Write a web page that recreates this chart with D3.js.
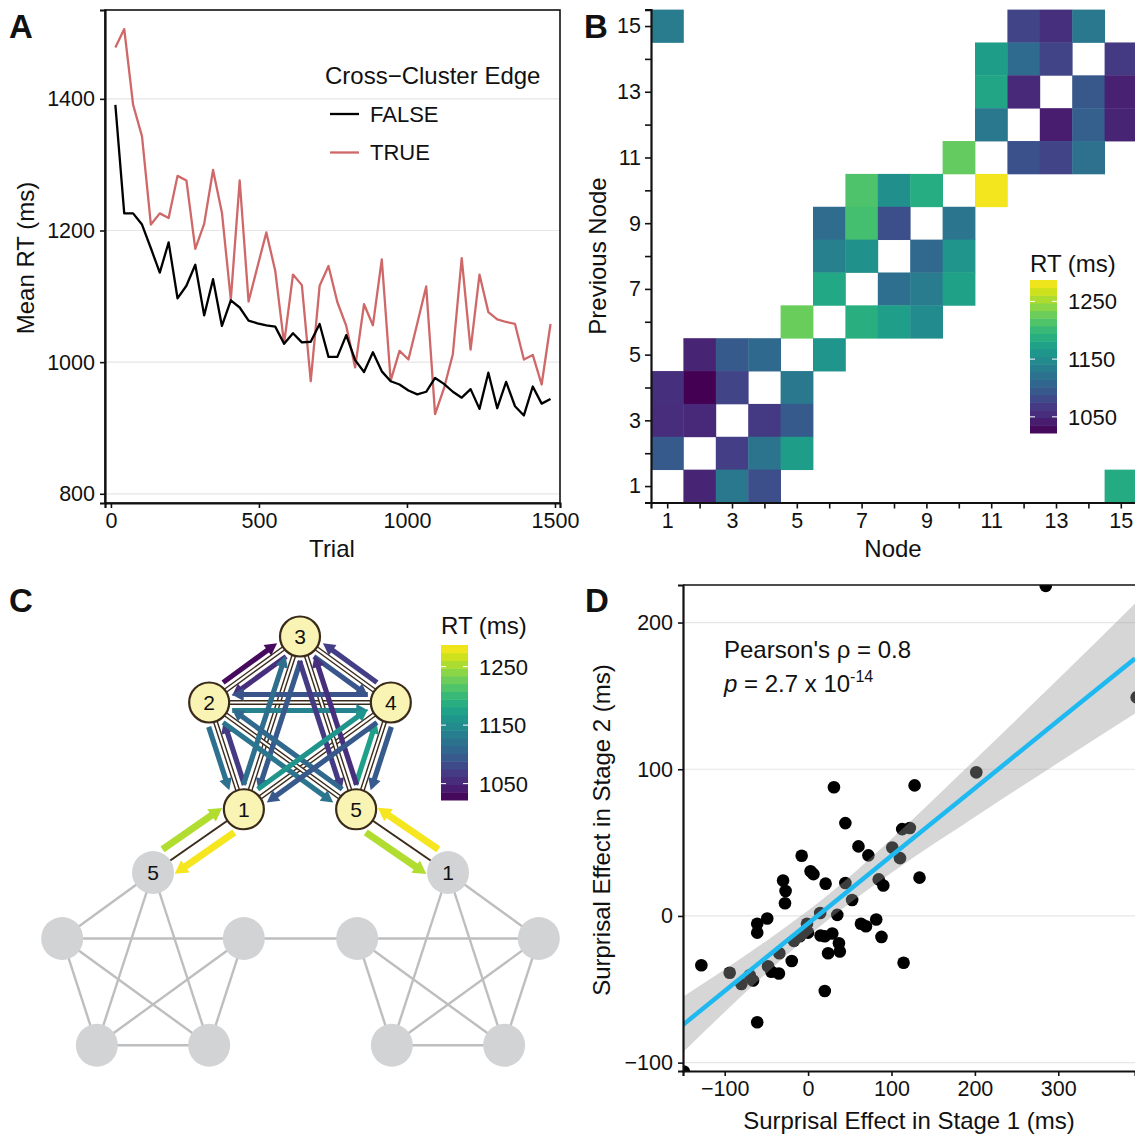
<!DOCTYPE html>
<html><head><meta charset="utf-8">
<script src="https://cdn.jsdelivr.net/npm/d3@7"></script>
<style>
body{margin:0;background:#fff}
text{font-family:"Liberation Sans",Arial,Helvetica,sans-serif;fill:#111}
</style>
</head><body>
<svg id="c" width="1135" height="1135" xmlns="http://www.w3.org/2000/svg"></svg>
<script>
// ---------------- DATA ----------------
// Panel A
const trialBins = [15,45,75,105,135,165,195,225,255,285,315,345,375,405,435,465,495,525,555,585,615,645,675,705,735,765,795,825,855,885,915,945,975,1005,1035,1065,1095,1125,1155,1185,1215,1245,1275,1305,1335,1365,1395,1425,1455,1485];
const rtWithin = [1391,1226,1226,1209,1173,1136,1182,1097,1116,1148,1071,1126,1055,1094,1083,1063,1059,1056,1054,1028,1044,1030,1031,1058,1008,1008,1041,1003,985,1015,986,971,966,957,951,955,976,967,955,946,959,929,984,930,970,933,919,963,937,944];
const rtCross = [1478,1506,1391,1343,1209,1226,1219,1283,1276,1172,1210,1292,1227,1095,1276,1092,1145,1197,1139,1028,1133,1117,971,1116,1146,1091,1055,992,1088,1056,1156,972,1017,1004,1059,1115,921,960,1012,1158,1019,1133,1076,1065,1061,1058,1004,1011,966,1058];
const legendTitleA = "Cross\u2212Cluster Edge";
const seriesNamesA = ["FALSE","TRUE"];
const ticksAx = [0,500,1000,1500];
const ticksAy = [800,1000,1200,1400];

// Panel B: [previous node, node, RT]
const heatCells = [
 [15,1,1131],[15,12,1075],[15,13,1059],[15,14,1128],
 [14,11,1168],[14,12,1114],[14,13,1075],[14,15,1067],
 [13,11,1178],[13,12,1051],[13,14,1094],[13,15,1046],
 [12,11,1128],[12,13,1043],[12,14,1101],[12,15,1048],
 [11,10,1223],[11,12,1088],[11,13,1075],[11,14,1120],
 [10,7,1213],[10,8,1154],[10,9,1186],[10,11,1282],
 [9,6,1115],[9,7,1208],[9,8,1086],[9,10,1125],
 [8,6,1136],[8,7,1155],[8,9,1110],[8,10,1160],
 [7,6,1181],[7,8,1117],[7,9,1131],[7,10,1173],
 [6,5,1226],[6,7,1189],[6,8,1170],[6,9,1149],
 [5,2,1048],[5,3,1096],[5,4,1112],[5,6,1160],
 [4,1,1059],[4,2,1023],[4,3,1075],[4,5,1128],
 [3,1,1056],[3,2,1051],[3,4,1067],[3,5,1096],
 [2,1,1096],[2,3,1070],[2,4,1123],[2,5,1168],
 [1,2,1048],[1,3,1128],[1,4,1086],[1,15,1184]
];
const nodeTicks = [1,2,3,4,5,6,7,8,9,10,11,12,13,14,15];
const rtDomain = [1022,1287];
const rtLegendTicks = [1050,1150,1250];

// Panel C: directed transitions [from, to, RT]
const transitions = [
 ["2","3",1030],["3","2",1058],["3","4",1092],["4","3",1070],
 ["2","4",1140],["4","2",1090],["1","2",1068],["2","1",1120],
 ["4","5",1097],["5","4",1172],["1","3",1118],["3","1",1095],
 ["3","5",1068],["5","3",1058],["2","5",1125],["5","2",1110],
 ["1","4",1160],["4","1",1095],
 ["L5","1",1255],["1","L5",1283],["5","R1",1255],["R1","5",1283]
];
const upperLabels = ["3","4","5","1","2"];           // pentagon order from top, clockwise
const upperEdges = [["1","2"],["1","3"],["1","4"],["2","3"],["2","4"],["2","5"],["3","4"],["3","5"],["4","5"]];
const bridgeEdges = [["1","L5"],["5","R1"]];
const lowerLeftEdges = [[0,2],[0,3],[0,4],[1,2],[1,3],[1,4],[2,3],[2,4],[3,4]];
const lowerRightEdges = [[0,1],[0,2],[0,3],[1,2],[1,3],[1,4],[2,3],[2,4],[3,4]];

// Panel D
const stage1 = [285,394,-149,-128,-94,-80,-70,-66,-61,-61,-61,-49,-48,-44,-35,-34.5,-30,-27,-27.7,-19.6,-17,-10,-7.7,-1.3,0,3,6.4,14.5,15,20,20,21,24,29,31,35,37,38,44.7,44.7,52.8,60.4,63.4,69.4,72.3,81.7,84.7,88,90.2,100.9,110.2,112.8,114.5,122,127.7,133.6,201.7];
const stage2 = [225,149,-106,-33.6,-38.7,-46.4,-40.4,-44,-72.5,-5.3,-11.4,-1.7,-34.3,-38,-39.2,-25.4,24.2,17,8.7,-30.7,-17,-13.8,41,-5.3,-11.4,30.5,28.5,2,-13.3,-13.8,-51.2,22,-25.4,-12,87.7,0.7,-18.6,-24.2,63.3,22.5,10.9,47.4,-5.3,-7,41.3,-2.4,24.9,-14.3,20.8,46.7,39.4,59.2,-31.9,60,89,26.1,97.9];
const smoothX   = [-150,-50,20,100,200,300,392];
const smoothFit = [-74.2,-28.1,4.1,41,87.1,133.2,175.5];
const smoothLo  = [-93,-39,-4.5,29.5,67.5,104.5,138];
const smoothHi  = [-55,-17,12.5,52.5,106.5,161.5,213];
const ticksDx = [-100,0,100,200,300];
const ticksDy = [-100,0,100,200];

// ---------------- DRAW ----------------
const svg = d3.select("#c");
const fmt = d3.format("");
const color = d3.scaleSequential(d3.interpolateViridis).domain(rtDomain);
const TICK = 21.5, TITLE = 24, LEG = 22;

function styleAxis(g){
  g.selectAll("text").style("font-size", TICK+"px").style("fill","#111");
  g.selectAll(".tick line").attr("stroke","#111").attr("stroke-width",1.6);
  g.select(".domain").attr("stroke","#111").attr("stroke-width",2.2);
}
function panelLetter(t,x,y){
  svg.append("text").attr("x",x).attr("y",y).text(t)
    .style("font-size","33px").style("font-weight","bold");
}

// ===== Panel A =====
(function(){
  const x = d3.scaleLinear().domain([-20,1517]).range([105,560]);
  const y = d3.scaleLinear().domain([786,1535]).range([503,10]);
  const g = svg.append("g");
  g.selectAll("line.grid").data(ticksAy).join("line")
    .attr("x1",105).attr("x2",560).attr("y1",d=>y(d)).attr("y2",d=>y(d))
    .attr("stroke","#E6E6E6").attr("stroke-width",1.2);
  const line = d3.line().x((d,i)=>x(trialBins[i])).y(d=>y(d));
  g.append("path").datum(rtCross).attr("d",line).attr("fill","none")
    .attr("stroke","#CF6868").attr("stroke-width",2.3).attr("stroke-linejoin","round");
  g.append("path").datum(rtWithin).attr("d",line).attr("fill","none")
    .attr("stroke","#000").attr("stroke-width",2.3).attr("stroke-linejoin","round");
  g.append("rect").attr("x",105).attr("y",10).attr("width",455).attr("height",493)
    .attr("fill","none").attr("stroke","#111").attr("stroke-width",1.6);
  const gx = g.append("g").attr("transform","translate(0,503)")
    .call(d3.axisBottom(x).tickValues(ticksAx).tickSize(5).tickPadding(5).tickFormat(fmt));
  styleAxis(gx);
  const gy = g.append("g").attr("transform","translate(105,0)")
    .call(d3.axisLeft(y).tickValues(ticksAy).tickSize(5).tickPadding(5).tickFormat(fmt));
  styleAxis(gy);
  g.append("text").attr("x",332).attr("y",557).attr("text-anchor","middle").text("Trial").style("font-size",TITLE+"px");
  g.append("text").attr("transform","translate(34,258) rotate(-90)").attr("text-anchor","middle")
    .text("Mean RT (ms)").style("font-size",TITLE+"px");
  // legend
  g.append("text").attr("x",325).attr("y",83.5).text(legendTitleA).style("font-size",TITLE+"px");
  const lc = ["#000","#CF6868"];
  seriesNamesA.forEach((s,i)=>{
    const yy = 114 + i*38.5;
    g.append("line").attr("x1",330).attr("x2",359).attr("y1",yy).attr("y2",yy)
      .attr("stroke",lc[i]).attr("stroke-width",2.3);
    g.append("text").attr("x",370).attr("y",yy).attr("dy","0.36em").text(s).style("font-size",LEG+"px");
  });
  panelLetter("A",9,38);
})();

// colorbar helper
function colorbar(x0, yTop, yBot, titleY){
  const ly = d3.scaleLinear().domain(rtDomain).range([yBot,yTop]);
  const g = svg.append("g");
  g.append("text").attr("x",x0).attr("y",titleY).text("RT (ms)").style("font-size",TITLE+"px");
  const nb = 20, step = (rtDomain[1]-rtDomain[0])/nb;
  const bins = d3.range(nb).map(i=>rtDomain[0]+i*step);
  g.selectAll("rect").data(bins).join("rect")
    .attr("x",x0).attr("width",27)
    .attr("y",d=>ly(d+step)).attr("height",d=>ly(d)-ly(d+step)+0.5)
    .attr("fill",d=>color(d+step/2));
  rtLegendTicks.forEach(v=>{
    g.append("line").attr("x1",x0).attr("x2",x0+5).attr("y1",ly(v)).attr("y2",ly(v)).attr("stroke","#fff").attr("stroke-width",1);
    g.append("line").attr("x1",x0+22).attr("x2",x0+27).attr("y1",ly(v)).attr("y2",ly(v)).attr("stroke","#fff").attr("stroke-width",1);
    g.append("text").attr("x",x0+38).attr("y",ly(v)).attr("dy","0.36em").text(v).style("font-size",LEG+"px");
  });
}

// ===== Panel B =====
(function(){
  const x = d3.scaleLinear().domain([0.5,15.5]).range([651,1137]);
  const y = d3.scaleLinear().domain([0.5,15.5]).range([502.5,9.6]);
  const g = svg.append("g");
  g.selectAll("rect.cell").data(heatCells).join("rect")
    .attr("x",d=>x(d[1]-0.5)).attr("width",x(1.5)-x(0.5)+0.4)
    .attr("y",d=>y(d[0]+0.5)).attr("height",y(0.5)-y(1.5)+0.4)
    .attr("fill",d=>color(d[2]));
  const gx = g.append("g").attr("transform","translate(0,502.5)")
    .call(d3.axisBottom(x).tickValues(nodeTicks).tickSize(6).tickPadding(4).tickFormat(d=>d%2?d:""));
  styleAxis(gx);
  const gy = g.append("g").attr("transform","translate(651,0)")
    .call(d3.axisLeft(y).tickValues(nodeTicks).tickSize(6).tickPadding(4).tickFormat(d=>d%2?d:""));
  styleAxis(gy);
  g.append("text").attr("x",893).attr("y",557).attr("text-anchor","middle").text("Node").style("font-size",TITLE+"px");
  g.append("text").attr("transform","translate(606,256) rotate(-90)").attr("text-anchor","middle")
    .text("Previous Node").style("font-size",TITLE+"px");
  colorbar(1030,280,433,272);
  panelLetter("B",584,38);
})();

// ===== Panel C =====
(function(){
  const g = svg.append("g");
  const R = 95.5;
  function pent(cx,cy){ return d3.range(5).map(i=>{const a=-Math.PI/2+i*2*Math.PI/5;return [cx+R*Math.cos(a),cy+R*Math.sin(a)];}); }
  const upperPos = pent(300,732), leftPos = pent(153,968), rightPos = pent(448,968);
  const pos = {};
  upperLabels.forEach((l,i)=>pos[l]=upperPos[i]);
  pos["L5"] = leftPos[0]; pos["R1"] = rightPos[0];
  const gray = "#BEBEBE", dark = "#3A2A1A";
  // bridge edges (under all nodes)
  bridgeEdges.forEach(e=>{
    const a=pos[e[0]], b=pos[e[1]];
    g.append("line").attr("x1",a[0]).attr("y1",a[1]).attr("x2",b[0]).attr("y2",b[1]).attr("stroke",dark).attr("stroke-width",2);
  });
  // lower clusters
  function lowerEdges(P,E){ E.forEach(e=>g.append("line").attr("x1",P[e[0]][0]).attr("y1",P[e[0]][1]).attr("x2",P[e[1]][0]).attr("y2",P[e[1]][1]).attr("stroke",gray).attr("stroke-width",2.4)); }
  lowerEdges(leftPos,lowerLeftEdges); lowerEdges(rightPos,lowerRightEdges);
  g.append("line").attr("x1",leftPos[1][0]).attr("y1",leftPos[1][1]).attr("x2",rightPos[4][0]).attr("y2",rightPos[4][1]).attr("stroke",gray).attr("stroke-width",2.4);
  [...leftPos,...rightPos].forEach(p=>g.append("ellipse").attr("cx",p[0]).attr("cy",p[1]).attr("rx",21).attr("ry",21.5).attr("fill","#D2D3D5"));
  [["5",pos["L5"]],["1",pos["R1"]]].forEach(([t,p])=>g.append("text").attr("x",p[0]).attr("y",p[1]).attr("dy","0.36em").attr("text-anchor","middle").text(t).style("font-size","21px"));
  // upper edges: double lines
  upperEdges.forEach(e=>{
    const a=pos[e[0]], b=pos[e[1]];
    g.append("line").attr("x1",a[0]).attr("y1",a[1]).attr("x2",b[0]).attr("y2",b[1]).attr("stroke",dark).attr("stroke-width",5);
    g.append("line").attr("x1",a[0]).attr("y1",a[1]).attr("x2",b[0]).attr("y2",b[1]).attr("stroke","#fff").attr("stroke-width",2.2);
  });
  // arrows
  transitions.forEach(([s,t,v])=>{
    const a=pos[s], b=pos[t];
    const dx=b[0]-a[0], dy=b[1]-a[1], L=Math.hypot(dx,dy);
    const u=[dx/L,dy/L];
    let n=[u[1],-u[0]];
    const wantUp = dy<-0.5 || (Math.abs(dy)<=0.5 && dx<0);
    if ((wantUp && n[1]>0) || (!wantUp && n[1]<0)) n=[-n[0],-n[1]];
    const cross = s.length>1 || t.length>1;
    const off = cross?13.5:8, w = cross?7:5.2, hl = cross?13:12, hw = cross?7.5:6.5;
    const s0 = cross?21:23, e0 = cross?17:22.5;
    const st=[a[0]+u[0]*s0+n[0]*off, a[1]+u[1]*s0+n[1]*off];
    const tip=[b[0]-u[0]*e0+n[0]*off, b[1]-u[1]*e0+n[1]*off];
    const base=[tip[0]-u[0]*hl, tip[1]-u[1]*hl];
    const c = color(v);
    g.append("line").attr("x1",st[0]).attr("y1",st[1]).attr("x2",base[0]+u[0]*2).attr("y2",base[1]+u[1]*2)
      .attr("stroke",c).attr("stroke-width",w);
    g.append("path").attr("d",`M${tip[0]},${tip[1]}L${base[0]+n[0]*hw},${base[1]+n[1]*hw}L${base[0]-n[0]*hw},${base[1]-n[1]*hw}Z`).attr("fill",c);
  });
  // upper nodes
  upperLabels.forEach(l=>{
    const p=pos[l];
    g.append("circle").attr("cx",p[0]).attr("cy",p[1]).attr("r",20).attr("fill","#F9F4B4").attr("stroke",dark).attr("stroke-width",2.2);
    g.append("text").attr("x",p[0]).attr("y",p[1]).attr("dy","0.36em").attr("text-anchor","middle").text(l).style("font-size","21px");
  });
  colorbar(441,645,800,634);
  panelLetter("C",9,612);
})();

// ===== Panel D =====
(function(){
  const x = d3.scaleLinear().domain([-150,392]).range([683,1135]);
  const y = d3.scaleLinear().domain([-105.7,225.6]).range([1071,585]);
  const g = svg.append("g");
  svg.append("clipPath").attr("id","clipD").append("rect").attr("x",683).attr("y",585).attr("width",460).attr("height",486);
  g.selectAll("line.grid").data(ticksDy).join("line")
    .attr("x1",683).attr("x2",1135).attr("y1",d=>y(d)).attr("y2",d=>y(d))
    .attr("stroke","#E6E6E6").attr("stroke-width",1.2);
  const pg = g.append("g").attr("clip-path","url(#clipD)");
  pg.selectAll("circle").data(stage1).join("circle")
    .attr("cx",d=>x(d)).attr("cy",(d,i)=>y(stage2[i])).attr("r",6.3).attr("fill","#000");
  const area = d3.area().x((d,i)=>x(smoothX[i])).y0((d,i)=>y(smoothLo[i])).y1((d,i)=>y(smoothHi[i])).curve(d3.curveMonotoneX);
  pg.append("path").datum(smoothX).attr("d",area).attr("fill","#999").attr("fill-opacity",0.4);
  const fl = d3.line().x((d,i)=>x(smoothX[i])).y(d=>y(d));
  pg.append("path").datum(smoothFit).attr("d",fl).attr("fill","none").attr("stroke","#1EB9F0").attr("stroke-width",4.5);
  g.append("line").attr("x1",683).attr("x2",1135).attr("y1",585).attr("y2",585).attr("stroke","#111").attr("stroke-width",1.6);
  const gx = g.append("g").attr("transform","translate(0,1071)")
    .call(d3.axisBottom(x).tickValues(ticksDx).tickSize(5).tickPadding(5));
  styleAxis(gx);
  const gy = g.append("g").attr("transform","translate(683,0)")
    .call(d3.axisLeft(y).tickValues(ticksDy).tickSize(5).tickPadding(5));
  styleAxis(gy);
  g.append("text").attr("x",909).attr("y",1129).attr("text-anchor","middle").text("Surprisal Effect in Stage 1 (ms)").style("font-size",TITLE+"px");
  g.append("text").attr("transform","translate(610,830) rotate(-90)").attr("text-anchor","middle")
    .text("Surprisal Effect in Stage 2 (ms)").style("font-size",TITLE+"px");
  g.append("text").attr("x",724).attr("y",658).text("Pearson's \u03C1 = 0.8").style("font-size",TITLE+"px");
  const t2 = g.append("text").attr("x",724).attr("y",692).style("font-size",TITLE+"px");
  t2.append("tspan").text("p").style("font-style","italic");
  t2.append("tspan").text(" = 2.7 x 10");
  t2.append("tspan").attr("dy",-10).text("-14").style("font-size","16px");
  panelLetter("D",585,612);
})();
</script>
</body></html>
